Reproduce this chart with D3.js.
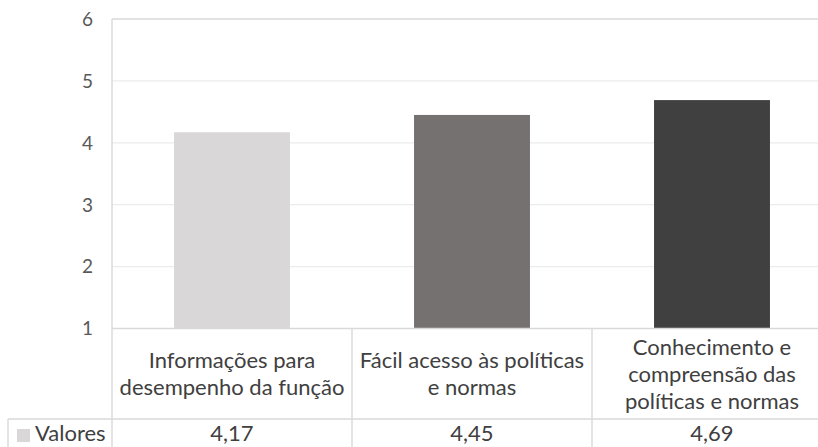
<!DOCTYPE html>
<html>
<head>
<meta charset="utf-8">
<script src="https://cdn.jsdelivr.net/npm/d3@7"></script>
<style>
  html, body { margin: 0; padding: 0; background: #fff; }
  svg { display: block; font-family: Lato, "Open Sans", sans-serif; }
</style>
</head>
<body>
<svg id="chart" width="818" height="447"></svg>
<script>
// Categories (label lines), values and colours for the bar chart with data table
const categories = [
  ["Informações para", "desempenho da função"],
  ["Fácil acesso às políticas", "e normas"],
  ["Conhecimento e", "compreensão das", "políticas e normas"]
];
const values = [4.17, 4.45, 4.69];
const valueLabels = ["4,17", "4,45", "4,69"];
const barColors = ["#d9d7d8", "#767171", "#404040"];
const yTicks = [1, 2, 3, 4, 5, 6];
const seriesName = "Valores";

const svg = d3.select("#chart");
const plotLeft = 112, plotRight = 832, plotTop = 19, plotBottom = 328.5;
const tableLeft = 8, rowSplit = 419, tableBottom = 460;

const keys = d3.range(categories.length);

// column scale for the table cells
const col = d3.scaleBand().domain(keys).range([plotLeft, plotRight]).padding(0);
// bar scale: same step, narrower bands
const x = d3.scaleBand().domain(keys).range([plotLeft, plotRight])
  .paddingInner(0.517).paddingOuter(0.2585);
const y = d3.scaleLinear().domain([1, 6]).range([plotBottom, plotTop]);

// gridlines
svg.append("g")
  .selectAll("line")
  .data(yTicks.filter(t => t > 1 && t < 6))
  .join("line")
  .attr("x1", plotLeft).attr("x2", plotRight)
  .attr("y1", d => y(d)).attr("y2", d => y(d))
  .attr("stroke", "#ececec").attr("stroke-width", 1.3);

// bars
svg.append("g")
  .selectAll("rect")
  .data(values)
  .join("rect")
  .attr("x", (d, i) => x(i))
  .attr("width", x.bandwidth())
  .attr("y", d => y(d))
  .attr("height", d => y(1) - y(d))
  .attr("fill", (d, i) => barColors[i]);

// plot border (top and left) and table lines
const lineColor = "#d9d9d9";
const g = svg.append("g").attr("stroke", lineColor).attr("stroke-width", 1.4);
g.append("line").attr("x1", plotLeft).attr("x2", plotRight).attr("y1", y(6)).attr("y2", y(6));
g.append("line").attr("x1", plotLeft).attr("x2", plotLeft).attr("y1", y(6)).attr("y2", tableBottom);
g.append("line").attr("x1", plotLeft).attr("x2", plotRight).attr("y1", y(1)).attr("y2", y(1));
g.append("line").attr("x1", tableLeft).attr("x2", plotRight).attr("y1", rowSplit).attr("y2", rowSplit);
g.append("line").attr("x1", tableLeft).attr("x2", tableLeft).attr("y1", rowSplit).attr("y2", tableBottom);
g.selectAll(".vcol")
  .data(keys)
  .join("line")
  .attr("x1", d => col(d) + col.bandwidth()).attr("x2", d => col(d) + col.bandwidth())
  .attr("y1", y(1)).attr("y2", tableBottom);

// y tick labels
svg.append("g")
  .selectAll("text")
  .data(yTicks)
  .join("text")
  .attr("x", 93)
  .attr("y", d => y(d))
  .attr("dy", "0.36em")
  .attr("text-anchor", "end")
  .attr("font-size", 19)
  .attr("fill", "#595959")
  .text(d => d);

// category labels in the table header row
const rowMid = (y(1) + rowSplit) / 2;
const lineH = 27;
const catG = svg.append("g")
  .attr("font-size", 22)
  .attr("fill", "#404040")
  .attr("text-anchor", "middle");
categories.forEach((lines, i) => {
  const cx = col(i) + col.bandwidth() / 2;
  const t = catG.append("text");
  lines.forEach((ln, j) => {
    t.append("tspan")
      .attr("x", cx)
      .attr("y", rowMid + 8 + (j - (lines.length - 1) / 2) * lineH)
      .text(ln);
  });
});

// value row
const valY = 441;
svg.append("g")
  .attr("font-size", 22)
  .attr("fill", "#404040")
  .attr("text-anchor", "middle")
  .selectAll("text")
  .data(valueLabels)
  .join("text")
  .attr("x", (d, i) => col(i) + col.bandwidth() / 2)
  .attr("y", valY)
  .text(d => d);

// legend key + series name
svg.append("rect")
  .attr("x", 17).attr("y", 429).attr("width", 13).attr("height", 13)
  .attr("fill", barColors[0]);
svg.append("text")
  .attr("x", 35).attr("y", valY)
  .attr("font-size", 22)
  .attr("fill", "#404040")
  .text(seriesName);
</script>
</body>
</html>
